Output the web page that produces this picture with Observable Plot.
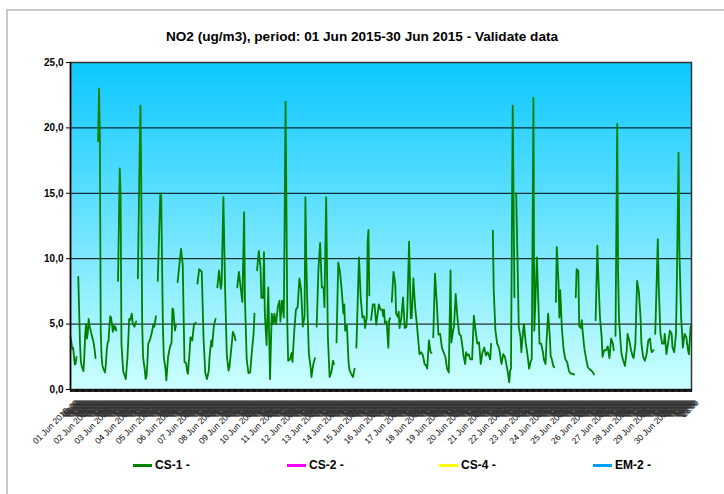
<!DOCTYPE html>
<html><head><meta charset="utf-8">
<script src="https://cdn.jsdelivr.net/npm/d3@7"></script>
<script src="https://cdn.jsdelivr.net/npm/@observablehq/plot@0.6"></script>
<style>
body{margin:0;background:#fff;font-family:"Liberation Sans",Arial,sans-serif;}
#wrap{position:relative;width:724px;height:494px;overflow:hidden;}
#border{position:absolute;left:6px;top:9px;width:730px;height:500px;border-left:2px solid #c8c8c8;border-top:2px solid #c8c8c8;}
#title{position:absolute;left:0;width:724px;top:29px;text-align:center;font-weight:bold;font-size:13.6px;color:#000;}
#chart{position:absolute;left:0;top:0;}
.leg{position:absolute;top:458px;font-weight:bold;font-size:12px;display:flex;align-items:center;color:#000;white-space:nowrap;}
.sw{display:inline-block;width:19px;height:3px;margin-right:3px;}
</style></head><body>
<div id="wrap"><div id="border"></div><div id="chart"></div><div id="title"></div><div id="legend"></div></div>
<script>
// Hourly NO2 readings for CS-1, [hour since 01 Jun 2015 00:00, value]; null = missing data
const jun01_07 = [
  [0,4.0],[1,3.6],[2,3.1],[3,3.2],[5,1.9],[6,2.0],[7,2.5],[8,null],
  [9,8.6],[10,6.0],[11,3.5],[12,2.1],[13,1.8],[15,1.4],[16,2.5],[17,4.2],[18,5.0],[19,3.9],[20,4.3],[21,5.4],[22,4.9],[24,4.3],[26,3.8],[27,3.5],[28,3.0],[29,2.4],[30,null],
  [32,19.0],[33,23.0],[34,19.3],[35,4.5],[36,2.5],[37,1.8],[38,1.6],[40,1.3],[41,2.0],[42,3.0],[43,3.6],[44,3.7],[45,4.8],[46,5.6],[47,5.5],[48,5.0],[49,4.4],[50,4.9],[51,4.6],[52,4.8],[53,4.5],[54,null],
  [55,8.3],[57,16.9],[58,15.0],[59,3.5],[61,1.4],[62,1.2],[64,0.8],[66,2.5],[68,5.4],[69,5.3],[71,5.8],[72,5.1],[74,4.8],[76,5.2],[77,null],
  [78,8.5],[80,18.0],[81,21.7],[82,15.0],[83,5.0],[84,2.5],[86,1.5],[87,0.8],[88,1.0],[89,2.0],[90,3.5],[92,3.8],[94,4.3],[96,5.0],[97,4.8],[99,5.6],[100,null],
  [101,8.3],[104,15.0],[105,14.8],[107,4.8],[108,2.5],[110,1.6],[111,0.7],[113,2.5],[115,3.2],[117,3.6],[118,6.2],[119,6.1],[121,4.5],[122,4.9],[123,null],
  [124,8.2],[126,9.5],[128,10.75],[130,9.5],[131,5.5],[132,2.1],[134,2.0],[135,1.4],[136,1.2],[138,3.0],[139,4.0],[141,3.75],[143,5.0],[145,5.1],[146,null],
  [147,8.1],[149,9.2],[152,9.0],[154,4.0],[156,1.3],[158,0.8],[160,1.4],[161,2.5],[163,3.75],[164,3.3],[166,4.9],[168,5.4],[169,null]
];
const jun08_14 = [
  [170,7.8],[172,9.1],[174,7.7],[175,8.1],[177,14.7],[179,7.7],[181,2.6],[183,1.45],[184,1.7],[186,3.0],[188,4.4],[190,4.1],[191,3.75],[192,null],
  [193,7.8],[195,9.0],[197,7.8],[199,6.7],[201,13.55],[202,6.9],[204,2.3],[206,1.25],[208,1.3],[210,2.9],[212,4.3],[213,5.8],[214,null],
  [216,9.1],[218,10.6],[220,9.3],[221,7.0],[223,7.0],[224,10.5],[225,5.8],[227,3.4],[229,7.8],[231,0.8],[233,5.8],[235,5.0],[236,5.8],[238,5.0],[240,6.3],[242,6.8],[243,5.2],[245,6.8],[247,5.5],[249,22.0],[250,14.0],[251,5.0],[252,2.2],[254,2.3],[256,2.8],[257,2.1],[259,4.4],[261,6.1],[263,6.3],[265,8.5],[267,7.6],[269,4.8],[271,5.6],[272,14.7],[273,10.0],[274,7.0],[276,2.7],[278,1.7],[279,0.95],[281,1.9],[283,2.4],[284,null],
  [285,4.8],[287,9.1],[289,11.2],[291,7.8],[293,7.8],[294,6.3],[296,14.7],[298,4.0],[300,0.95],[302,1.3],[304,2.2],[305,1.95],[306,null],
  [308,3.6],[310,9.7],[312,9.0],[314,7.6],[316,5.8],[317,6.5],[318,4.5],[320,4.9],[322,2.0],[323,1.5],[325,1.2],[327,0.95],[329,1.6],[330,null],
  [331,3.2],[334,10.1],[336,7.0]
];
const jun15_21 = [
  [338,5.5],[340,5.6],[341,4.7],[343,5.5],[344,11.3],[345,12.2],[346,7.2],[347,null],
  [348,5.3],[350,6.5],[352,6.5],[354,4.95],[357,6.5],[359,6.1],[361,6.1],[362,5.6],[363,6.1],[364,5.1],[366,5.2],[368,3.2],[369,5.3],[370,5.45],[371,null],
  [372,6.7],[374,9.0],[376,8.1],[377,5.8],[379,5.55],[380,5.95],[381,4.7],[383,5.45],[385,7.05],[387,4.7],[389,4.8],[390,6.1],[392,11.3],[394,5.45],[395,5.45],[397,8.5],[399,6.3],[401,5.0],[403,3.5],[404,2.7],[406,2.85],[408,2.6],[410,1.95],[412,1.8],[413,1.6],[415,3.75],[417,2.85],[418,2.8],[419,null],
  [420,4.0],[422,8.85],[424,6.7],[426,4.2],[428,4.25],[430,3.2],[432,2.85],[434,2.5],[436,1.6],[438,1.3],[440,9.1],[441,3.6],[443,4.5],[444,4.8],[446,7.3],[448,5.5],[450,4.25],[452,4.1],[454,3.2],[455,2.6],[457,1.95],[458,2.85],[459,2.6],[461,2.7],[463,2.3],[465,2.3],[467,5.65],[469,4.5],[471,3.5],[473,3.6],[475,1.95],[477,2.85],[479,3.2],[481,2.6],[483,2.85],[484,2.7],[486,2.3],[487,3.5],[488,null],
  [489,12.15],[490,7.6],[492,4.5],[494,3.5],[496,3.2],[497,2.85],[499,1.95],[501,2.7],[503,2.5]
];
const jun22_28 = [
  [505,1.8],[506,1.45],[508,0.55],[509,1.45],[510,1.6],[512,21.7],[514,7.05],[515,null],
  [516,15.0],[518,8.3],[519,4.8],[521,4.0],[522,2.85],[524,4.5],[525,5.0],[527,3.6],[529,2.7],[531,1.6],[533,2.2],[534,2.3],[536,22.3],[537,4.5],[538,6.3],[540,10.1],[542,6.0],[543,3.5],[545,3.5],[547,2.85],[548,2.3],[550,1.95],[551,3.5],[553,5.8],[555,4.0],[556,2.5],[557,2.4],[559,1.8],[560,1.7],[561,null],
  [562,6.7],[563,10.9],[565,8.2],[566,5.5],[567,7.6],[569,4.6],[571,3.0],[573,2.3],[575,2.1],[577,1.45],[578,1.3],[580,1.2],[582,1.2],[583,1.15],[584,null],
  [585,7.05],[586,9.2],[588,9.05],[589,4.85],[591,4.7],[592,5.3],[593,4.4],[595,3.1],[597,2.35],[599,1.7],[601,1.55],[603,1.45],[605,1.3],[606,1.15],[607,null],
  [608,5.3],[610,11.0],[611,8.85],[613,5.55],[615,4.0],[616,2.5],[618,3.0],[620,3.0],[622,3.3],[624,2.4],[626,3.9],[628,3.5],[629,3.0],[630,null],
  [631,4.1],[633,20.3],[634,9.0],[635,5.5],[637,3.5],[638,2.7],[640,2.2],[642,1.8],[644,3.0],[645,4.25],[647,3.75],[649,3.0],[651,2.5],[652,2.4],[654,3.5],[656,8.3],[658,7.5],[660,5.5],[661,3.5],[663,2.5],[665,2.2],[667,2.7],[669,3.75],[671,3.9]
];
const jun29_30 = [
  [672,3.2],[673,2.85],[675,3.0],[676,null],
  [677,4.25],[680,11.5],[681,8.0],[683,4.3],[685,3.5],[687,3.5],[688,4.25],[690,2.7],[692,3.6],[694,4.5],[696,4.25],[697,3.2],[699,2.85],[701,4.25],[702,8.0],[704,18.1],[705,10.6],[707,5.5],[709,3.2],[711,4.25],[713,4.0],[715,3.0],[716,2.7],[718,4.8],[719,4.9]
];
const seriesNames = ["CS-1 -", "CS-2 -", "CS-4 -", "EM-2 -"];
const seriesColors = ["#008000", "#ff00ff", "#ffff00", "#00a0ff"];
const yTicks = [0, 5, 10, 15, 20, 25];
const gridValues = [5, 10, 15, 20];
const titleText = "NO2 (ug/m3), period: 01 Jun 2015-30 Jun 2015 - Validate data";

const start = Date.UTC(2015, 5, 1);
const toDate = h => new Date(start + h * 3600e3);
const rows = [...jun01_07, ...jun08_14, ...jun15_21, ...jun22_28, ...jun29_30]
  .map(([h, v]) => ({t: toDate(h), v: v == null ? NaN : v}));
const days = d3.range(30).map(d => toDate(d * 24));
const hours = d3.range(720).map(toDate);
const fmtDay = d3.utcFormat("%d %b %Y");
const fmtHour = d3.utcFormat("%H:00");

function background(index, scales, values, dims) {
  const {width, height, marginLeft, marginRight, marginTop, marginBottom} = dims;
  const g = d3.create("svg:g");
  const grad = g.append("defs").append("linearGradient").attr("id", "bgGrad")
    .attr("x1", 0).attr("y1", 0).attr("x2", 0).attr("y2", 1);
  grad.append("stop").attr("offset", "0%").attr("stop-color", "#0cc8ff");
  grad.append("stop").attr("offset", "100%").attr("stop-color", "#ccffff");
  g.append("rect").attr("x", marginLeft).attr("y", marginTop)
    .attr("width", width - marginLeft - marginRight)
    .attr("height", height - marginTop - marginBottom)
    .attr("fill", "url(#bgGrad)");
  return g.node();
}

// clip for the dense hourly label band
function hourClip(index, scales, values, dims) {
  const g = d3.create("svg:defs");
  g.append("clipPath").attr("id", "hourBand").append("rect")
    .attr("x", 62).attr("y", dims.height - dims.marginBottom + 10)
    .attr("width", dims.width - dims.marginRight - 66).attr("height", 11);
  return g.node();
}

const chart = Plot.plot({
  width: 724, height: 494,
  marginLeft: 70, marginRight: 33, marginTop: 62, marginBottom: 105,
  x: {type: "utc", domain: [toDate(0), toDate(719)]},
  y: {domain: [0, 25]},
  style: {fontFamily: "Liberation Sans, Arial, sans-serif", background: "transparent", overflow: "visible", color: "#000"},
  marks: [
    background,
    hourClip,
    Plot.ruleY(gridValues, {stroke: "#000", strokeWidth: 1}),
    Plot.lineY(rows, {x: "t", y: "v", stroke: seriesColors[0], strokeWidth: 1.8}),
    Plot.frame({stroke: "#333", strokeWidth: 1.5}),
    Plot.ruleX([toDate(0)], {stroke: "#000", strokeWidth: 1.5}),
    Plot.axisY({ticks: yTicks, tickFormat: d => d.toFixed(1).replace(".", ","), tickSize: 4, tickPadding: 3, fontSize: 10, fontWeight: "bold", label: null, stroke: "#000"}),
    Plot.axisX({ticks: hours, tickSize: 3, tickFormat: () => "", label: null, stroke: "#111", strokeWidth: 1.2}),
    Plot.text(days, {x: d => d, y: 0, text: d => fmtDay(d), rotate: -45, textAnchor: "end", dx: -3, dy: 20, fontSize: 8.5, fill: "#000"}),
    Plot.text(hours, {x: d => d, y: 0, text: d => fmtHour(d), rotate: -45, textAnchor: "end", dx: 6, dy: 12, fontSize: 8, fill: "#333", clipPath: "url(#hourBand)"})
  ]
});
document.getElementById("chart").appendChild(chart);
document.getElementById("title").textContent = titleText;

const legendX = [133, 287, 439, 593];
const legend = document.getElementById("legend");
seriesNames.forEach((name, i) => {
  const item = document.createElement("div");
  item.className = "leg";
  item.style.left = legendX[i] + "px";
  item.innerHTML = `<span class="sw" style="background:${seriesColors[i]}"></span>${name}`;
  legend.appendChild(item);
});
</script></body></html>
